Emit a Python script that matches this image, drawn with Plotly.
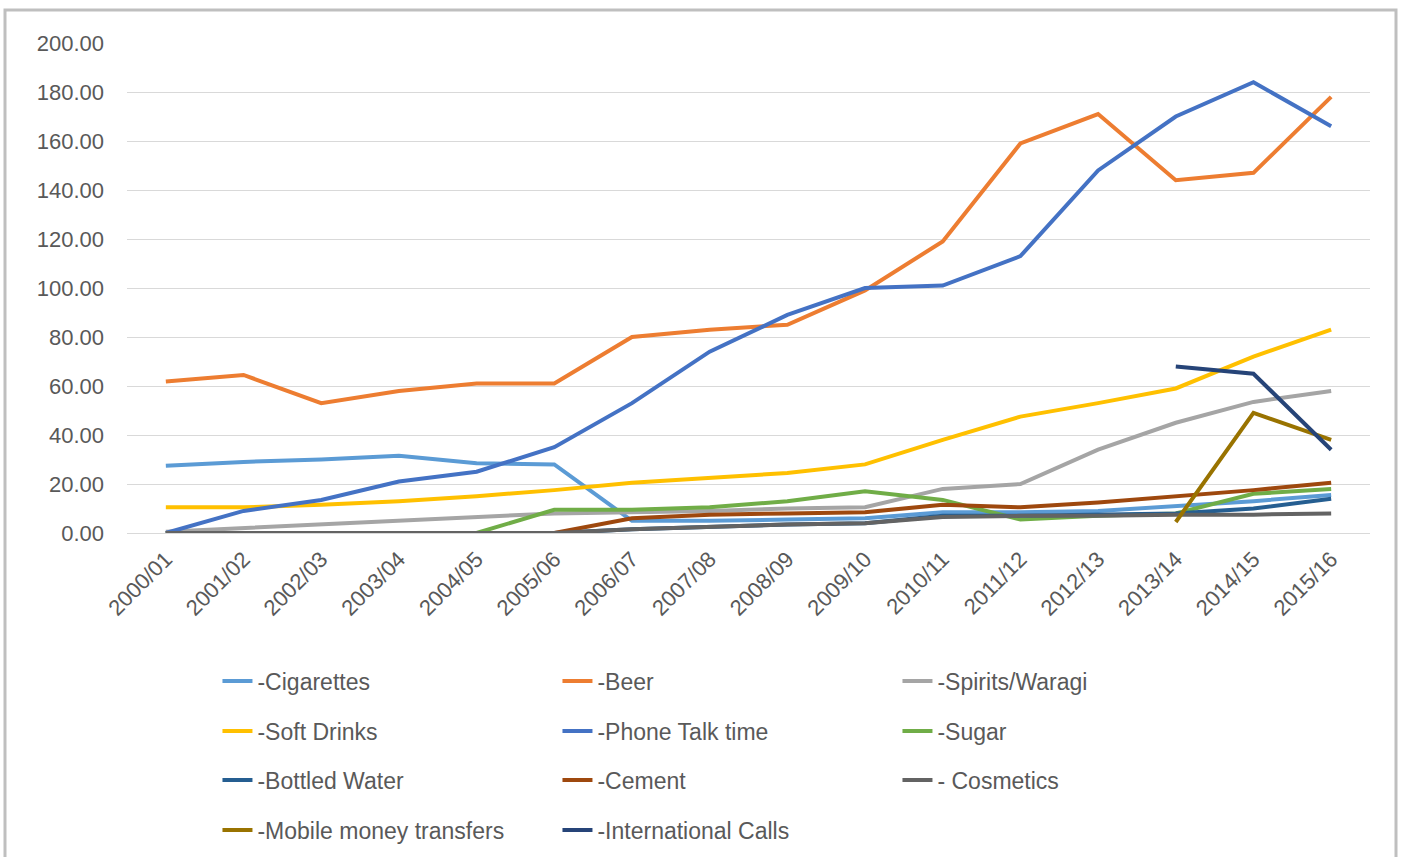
import plotly.graph_objects as go

years = ["2000/01", "2001/02", "2002/03", "2003/04", "2004/05", "2005/06", "2006/07", "2007/08",
         "2008/09", "2009/10", "2010/11", "2011/12", "2012/13", "2013/14", "2014/15", "2015/16"]

cigarettes = [27.5, 29, 30, 31.5, 28.5, 28, 5, 5, 5.5, 6, 8.5, 8.5, 9, 11, 13, 15.5]
beer = [61.8, 64.5, 53, 58, 61, 61, 80, 83, 85, 99, 119, 159, 171, 144, 147, 178]
spirits = [0.5, 2, 3.5, 5, 6.5, 8, 8.5, 9, 10, 10.5, 18, 20, 34, 45, 53.5, 58]
soft_drinks = [10.5, 10.5, 11.5, 13, 15, 17.5, 20.5, 22.5, 24.5, 28, 38, 47.5, 53, 59, 72, 83]
phone = [0, 9, 13.5, 21, 25, 35, 53, 74, 89, 100, 101, 113, 148, 170, 184, 166]
sugar = [0, 0, 0, 0, 0, 9.5, 9.5, 10.5, 13, 17, 13.5, 5.5, 7, 8, 16, 18]
bottled_water = [0, 0, 0, 0, 0, 0, 1.5, 2.5, 3.5, 4, 7, 7, 7.5, 8, 10, 14]
cement = [0, 0, 0, 0, 0, 0, 6, 7.5, 8, 8.5, 11.5, 10.5, 12.5, 15, 17.5, 20.5]
cosmetics = [0, 0, 0, 0, 0, 0, 1.5, 2.5, 3.5, 4, 6.5, 7, 7, 7.5, 7.5, 8]
mobile_money = [None] * 13 + [4.5, 49, 38]
intl_calls = [None] * 13 + [68, 65, 34]

series = [
    ("-Cigarettes", cigarettes, "#5B9BD5", "legend"),
    ("-Beer", beer, "#ED7D31", "legend"),
    ("-Spirits/Waragi", spirits, "#A5A5A5", "legend"),
    ("-Soft Drinks", soft_drinks, "#FFC000", "legend2"),
    ("-Phone Talk time", phone, "#4472C4", "legend2"),
    ("-Sugar", sugar, "#70AD47", "legend2"),
    ("-Bottled Water", bottled_water, "#255E91", "legend3"),
    ("-Cement", cement, "#9E480E", "legend3"),
    ("- Cosmetics", cosmetics, "#636363", "legend3"),
    ("-Mobile money transfers", mobile_money, "#997300", "legend4"),
    ("-International Calls", intl_calls, "#264478", "legend4"),
]

fig = go.Figure()
for name, vals, color, lg in series:
    fig.add_trace(go.Scatter(
        x=years, y=vals, name=name, mode="lines",
        line=dict(color=color, width=4),
        legend=lg, connectgaps=False,
    ))

font_family = "Liberation Sans, Arial, sans-serif"
txt_color = "#595959"

legend_common = dict(
    orientation="h", xref="container", yref="container",
    x=0.1550, xanchor="left", yanchor="middle",
    entrywidth=295, entrywidthmode="pixels",
    font=dict(family=font_family, size=23, color=txt_color),
    bgcolor="rgba(0,0,0,0)", itemwidth=30, tracegroupgap=0,
)

fig.update_layout(
    width=1403, height=857,
    margin=dict(l=127, r=33, t=43, b=324),
    paper_bgcolor="white", plot_bgcolor="white",
    font=dict(family=font_family, color=txt_color),
    showlegend=True,
    legend=dict(legend_common, y=1 - 681 / 857),
    legend2=dict(legend_common, y=1 - 731 / 857),
    legend3=dict(legend_common, y=1 - 780 / 857),
    legend4=dict(legend_common, y=1 - 830 / 857),
    xaxis=dict(
        type="category", range=[-0.5, 15.5],
        showgrid=False, showline=False, zeroline=False,
        tickangle=-45, tickfont=dict(size=22, color=txt_color),
        ticks="", ticklabelstandoff=8,
    ),
    yaxis=dict(
        range=[0, 200], dtick=20, tickformat=".2f",
        showgrid=True, gridcolor="#D9D9D9", gridwidth=1,
        zeroline=True, zerolinecolor="#D9D9D9", zerolinewidth=1,
        showline=False, ticks="",
        tickfont=dict(size=22, color=txt_color),
        ticklabelstandoff=22,
    ),
    shapes=[dict(
        type="rect", xref="paper", yref="paper",
        x0=(5 - 127) / 1243, x1=(1396 - 127) / 1243,
        y0=(533 - 880) / 490, y1=(533 - 10) / 490,
        line=dict(color="#BFBFBF", width=3), fillcolor="rgba(0,0,0,0)",
        layer="below",
    )],
)

fig.write_html("out.html")
